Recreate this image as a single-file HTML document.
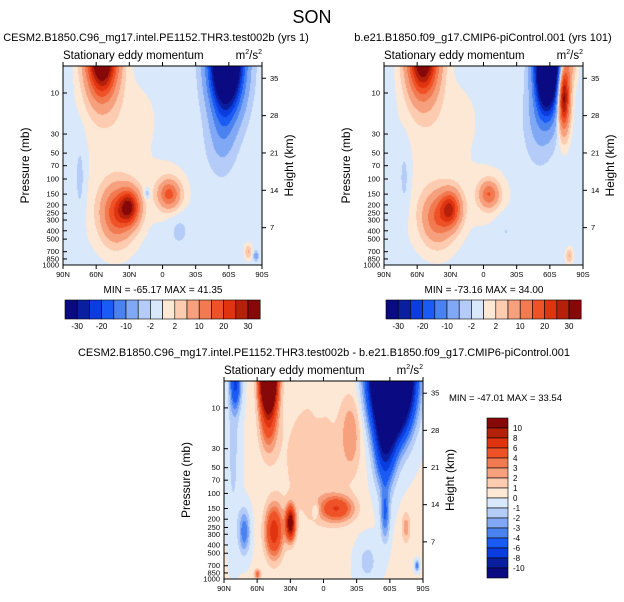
<!DOCTYPE html>
<html><head><meta charset="utf-8">
<style>
body{margin:0;background:#fff;width:624px;height:602px;overflow:hidden;position:relative;font-family:"Liberation Sans",sans-serif}
canvas{position:absolute}
svg{position:absolute;left:0;top:0}
</style></head><body>
<canvas id="c1" width="199" height="199" style="left:63px;top:66px"></canvas>
<canvas id="c2" width="199" height="199" style="left:384px;top:66px"></canvas>
<canvas id="c3" width="199" height="198" style="left:224px;top:381px"></canvas>
<svg id="ov" width="624" height="602"></svg>
<script>
// ---- data ----
const levelsTop = [-30,-25,-20,-15,-10,-5,-2,0,2,5,10,15,20,25,30];
const levelsDiff = [-10,-8,-6,-4,-3,-2,-1,0,1,2,3,4,6,8,10];
const colors = ['#0a0a82','#0a1fa0','#0a3ce0','#1a5af5','#4a82f0','#80a8f5','#b4ccf7','#d9e8fb','#fde8d6','#fccbb0','#f7a07e','#f27a50','#f05228','#e03410','#b5200a','#870808'];
const topLabels = ['-30','-20','-10','-2','2','10','20','30'];
const diffLabels = ['10','8','6','4','3','2','1','0','-1','-2','-3','-4','-6','-8','-10'];
const pTicks = [10,30,50,70,100,150,200,250,300,400,500,700,850,1000];
const zTicks = [35,28,21,14,7];
const latTicks = ['90N','60N','30N','0','30S','60S','90S'];
// blobs: [lat, log10(p), amplitude, latWidth, logpWidth]
const blobsTest = [
 [55,0.55,48,13,0.45],[40,1.3,1.6,35,0.5],[45,2.3,1.4,35,0.6],
 [-58,0.6,-66,14,0.55],[-55,1.4,-5,10,0.4],[-50,1.6,-1.5,14,0.4],
 [30,2.33,26,9,0.2],[42,2.4,18,13,0.3],[-6,2.18,16,9,0.15],[-5,2.15,2,18,0.3],
 [14,2.17,-4,3,0.07],[75,2.0,-2.5,5,0.5],[-15,2.6,-2,10,0.2],[-78,2.85,6,3,0.08],[-85,2.9,-8,2,0.05]
];
const baseTest = -0.7;
const blobsCtrl = [
 [55,0.55,42,13,0.45],[40,1.3,1.6,35,0.5],[45,2.3,1.4,35,0.6],
 [-58,0.65,-74,10,0.5],[-50,1.3,-5,12,0.45],[-73,1.05,35,5,0.35],[-78,0.6,8,6,0.3],
 [30,2.35,22,9,0.2],[42,2.45,14,13,0.28],[-5,2.18,14,8,0.14],[-5,2.2,2,18,0.3],
 [72,2.0,-2.5,5,0.4],[-20,2.6,-1.5,10,0.2],[-78,2.9,6,3,0.08]
];
const baseCtrl = -0.7;
const blobsDiff = [
 [-62,0.55,-48,16,0.6],[-56,1.4,-8,9,0.5],[-56,2.25,-4,4,0.3],[-75,2.4,2.5,4,0.18],
 [50,0.6,30,7,0.35],[50,1.1,5,8,0.4],[80,0.7,-6,5,0.3],[72,2.45,-4,5,0.25],[82,1.5,-1.4,6,1],
 [45,2.45,7,8,0.3],[30,2.35,12,4,0.18],[-12,2.18,5.5,15,0.15],[7,2.2,-2,3,0.08],
 [-25,1.3,2.5,9,0.45],[10,1.6,1.6,30,0.8],[60,2.95,4,3,0.06],[-85,2.85,-4,2,0.06],[-40,2.8,-1.5,10,0.25],
 [5,0.9,-0.6,5,0.2]
];
const baseDiff = 0.1;

const LPTOP = 0.686;
function field(blobs, base, lat, lp){
  let v=base;
  for(const b of blobs){const dx=(lat-b[0])/b[3],dy=(lp-b[1])/b[4];v+=b[2]*Math.exp(-dx*dx-dy*dy);}
  return v;
}
function colorOf(v,lev){let i=0;while(i<lev.length&&v>=lev[i])i++;return colors[i];}
function hex(c){return [parseInt(c.slice(1,3),16),parseInt(c.slice(3,5),16),parseInt(c.slice(5,7),16)];}
function draw(id,blobs,base,lev){
  const cv=document.getElementById(id),ctx=cv.getContext('2d'),W=cv.width,H=cv.height;
  const img=ctx.createImageData(W,H);
  for(let y=0;y<H;y++)for(let x=0;x<W;x++){
    const lat=90-180*x/(W-1), lp=LPTOP+(3-LPTOP)*y/(H-1);
    const c=hex(colorOf(field(blobs,base,lat,lp),lev)),k=(y*W+x)*4;
    img.data[k]=c[0];img.data[k+1]=c[1];img.data[k+2]=c[2];img.data[k+3]=255;
  }
  ctx.putImageData(img,0,0);
}
draw('c1',blobsTest,baseTest,levelsTop);
draw('c2',blobsCtrl,baseCtrl,levelsTop);
draw('c3',blobsDiff,baseDiff,levelsDiff);

// ---- overlay ----
const svg=document.getElementById('ov'),NS='http://www.w3.org/2000/svg';
function el(t,a,txt){const e=document.createElementNS(NS,t);for(const k in a)e.setAttribute(k,a[k]);if(txt!==undefined)e.textContent=txt;svg.appendChild(e);return e;}
let t=el('text',{x:312,y:23,'font-size':18,'text-anchor':'middle'},'SON');

function panel(x0,y0,W,H,name){
  const yOf=p=>y0+(Math.log10(p)-LPTOP)/(3-LPTOP)*H;
  let r=el('rect',{x:x0,y:y0,width:W,height:H,fill:'none',stroke:'#000','stroke-width':1});
  
  pTicks.forEach(p=>{const y=yOf(p);
    el('line',{x1:x0,y1:y,x2:x0+4,y2:y,stroke:'#000'});
    const l=el('text',{x:x0-4,y:y+2.5,'font-size':7.5,'text-anchor':'end'},String(p));
    });
  zTicks.forEach(z=>{const p=1000*Math.exp(-z/7);const y=yOf(p);
    el('line',{x1:x0+W,y1:y,x2:x0+W+4,y2:y,stroke:'#000'});
    const l=el('text',{x:x0+W+8,y:y+2.5,'font-size':7.5},String(z));
    });
  latTicks.forEach((s,i)=>{const x=x0+W*i/6;
    el('line',{x1:x,y1:y0+H,x2:x,y2:y0+H+4,stroke:'#000'});
    el('line',{x1:x,y1:y0,x2:x,y2:y0-4,stroke:'#000'});
    const l=el('text',{x:x,y:y0+H+12,'font-size':7.5,'text-anchor':'middle'},s);
    });
  let a=el('text',{x:0,y:0,'font-size':12,'text-anchor':'middle',transform:`translate(${x0-34},${y0+H/2}) rotate(-90)`},'Pressure (mb)');
  
  a=el('text',{x:0,y:0,'font-size':12,'text-anchor':'middle',transform:`translate(${x0+W+31},${y0+H/2}) rotate(-90)`},'Height (km)');
  
  a=el('text',{x:x0,y:y0-7,'font-size':11.5},'Stationary eddy momentum');
  
  a=el('text',{x:x0+W,y:y0-7,'font-size':11.5,'text-anchor':'end'});
  a.innerHTML='m<tspan font-size="7" dy="-5">2</tspan><tspan dy="5">/s</tspan><tspan font-size="7" dy="-5">2</tspan>';
  
}
panel(63,66,199,199,'test');
panel(384,66,199,199,'control');
panel(224,381,199,198,'diff');
function txt(x,y,s,fs,anchor,name){const e=el('text',{x:x,y:y,'font-size':fs,'text-anchor':anchor},s);
  }
txt(156,41,'CESM2.B1850.C96_mg17.intel.PE1152.THR3.test002b (yrs 1)',11,'middle','test-title');
txt(483,41,'b.e21.B1850.f09_g17.CMIP6-piControl.001 (yrs 101)',11,'middle','control-title');
txt(324,356,'CESM2.B1850.C96_mg17.intel.PE1152.THR3.test002b - b.e21.B1850.f09_g17.CMIP6-piControl.001',11,'middle','difference-title');
txt(163,293,'MIN = -65.17  MAX = 41.35',10,'middle','test-minmax');
txt(484,293,'MIN = -73.16  MAX = 34.00',10,'middle','control-minmax');
txt(449,401,'MIN = -47.01  MAX = 33.54',9.5,'start','diff-minmax');
// horizontal colorbars
function hbar(x0,y0,name){const w=12.2,h=19;
  colors.forEach((c,i)=>{const r=el('rect',{x:x0+i*w,y:y0,width:w,height:h,fill:c,stroke:'#000','stroke-width':0.6});
    });
  topLabels.forEach((s,j)=>{const e=el('text',{x:x0+(2*j+1)*w,y:y0+h+10,'font-size':8,'text-anchor':'middle'},s);
    });
}
hbar(65,300,'test-colorbar');hbar(386,300,'control-colorbar');
// vertical colorbar
(function(){const x0=487,y0=418,w=21,h=10;
  colors.slice().reverse().forEach((c,i)=>{const r=el('rect',{x:x0,y:y0+i*h,width:w,height:h,fill:c,stroke:'#000','stroke-width':0.6});
    });
  diffLabels.forEach((s,j)=>{const e=el('text',{x:x0+w+5,y:y0+(j+1)*h+3,'font-size':8},s);
    });
})();
</script>
</body></html>
